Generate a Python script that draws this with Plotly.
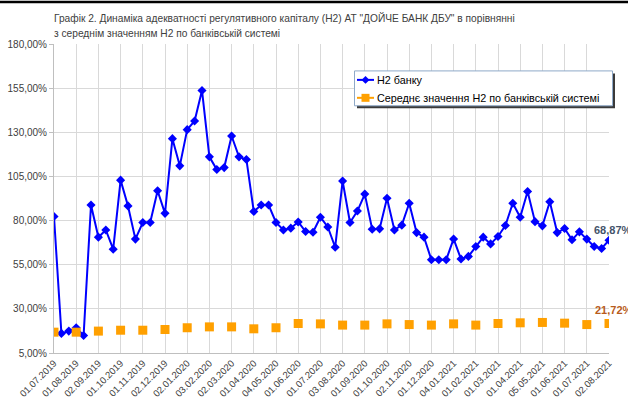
import plotly.graph_objects as go

# --- data ---------------------------------------------------------------
month_labels = ["01.07.2019", "01.08.2019", "02.09.2019", "01.10.2019", "01.11.2019",
                "02.12.2019", "02.01.2020", "03.02.2020", "02.03.2020", "01.04.2020",
                "04.05.2020", "01.06.2020", "01.07.2020", "03.08.2020", "01.09.2020",
                "01.10.2020", "02.11.2020", "01.12.2020", "04.01.2021", "01.02.2021",
                "01.03.2021", "01.04.2021", "05.05.2021", "01.06.2021", "01.07.2021",
                "02.08.2021"]

# bank H2 (%), ~every 10 days (3 observations per month)
bank_h2 = [82.3, 16.1, 17.4, 19.3, 14.9, 88.8, 70.6, 74.7, 63.8, 102.9,
           88.3, 69.5, 78.9, 78.9, 96.9, 84.1, 126.4, 111.0, 131.5, 136.4,
           153.7, 116.1, 108.9, 110.0, 127.9, 116.1, 114.6, 85.1, 88.8, 88.8,
           78.9, 74.7, 75.7, 79.2, 73.8, 73.4, 81.9, 76.4, 64.9, 102.4,
           78.9, 85.4, 95.0, 75.1, 75.3, 92.6, 74.7, 77.4, 89.8, 73.2,
           70.6, 57.8, 57.8, 57.8, 69.6, 58.2, 59.7, 65.3, 70.6, 66.8,
           71.0, 77.2, 89.8, 81.9, 96.5, 79.4, 77.0, 90.7, 73.2, 75.5,
           69.1, 73.6, 69.5, 65.3, 64.2, 68.87]

# banking-system average H2 (%), monthly
system_h2 = [16.8, 16.8, 17.4, 17.9, 17.9, 18.3, 19.3, 19.8, 19.8, 18.7,
             19.3, 21.7, 21.5, 20.8, 20.8, 21.5, 21.1, 20.8, 21.5, 20.8,
             21.7, 22.1, 22.3, 21.9, 21.1, 21.72]

y_ticks = [5, 30, 55, 80, 105, 130, 155, 180]
y_tick_labels = ["5,00%", "30,00%", "55,00%", "80,00%", "105,00%", "130,00%", "155,00%", "180,00%"]

series_names = ["Н2 банку", "Середнє значення Н2 по банківській системі"]
title_lines = ["Графік 2. Динаміка адекватності регулятивного капіталу (Н2) АТ \"ДОЙЧЕ БАНК ДБУ\" в порівнянні",
               "з середнім значенням Н2 по банківській системі"]

# --- build ----------------------------------------------------------------
BLUE, ORANGE = "#0000FF", "#FFA000"
per_month = 3
x_bank = list(range(len(bank_h2)))
month_pos = [i * per_month for i in range(len(month_labels))]
sys_full = [None] * len(bank_h2)
for p, v in zip(month_pos, system_h2):
    sys_full[p] = v

font_family = "Liberation Sans"
W, H = 628, 403
ML, MR, MT, MB = 54, 19, 43.5, 49.5
PW, PH = W - ML - MR, H - MT - MB

def px_y(py):
    return 1 + (MT - py) / PH

def px_x(px):
    return (px - ML) / PW

fig = go.Figure()
fig.add_trace(go.Scatter(
    x=x_bank, y=bank_h2, name=series_names[0], mode="lines+markers",
    line=dict(color=BLUE, width=2),
    marker=dict(symbol="diamond", size=7, color=BLUE),
))
fig.add_trace(go.Scatter(
    x=x_bank, y=sys_full, name=series_names[1],
    mode="lines+markers", connectgaps=False,
    line=dict(color=ORANGE, width=2),
    marker=dict(symbol="square", size=9, color=ORANGE),
))

fig.add_annotation(x=x_bank[-1], y=bank_h2[-1], text="<b>68,87%</b>", showarrow=False,
                   xanchor="left", yanchor="bottom", xshift=-17, yshift=2,
                   font=dict(size=11, color="#44546A", family=font_family))
fig.add_annotation(x=month_pos[-1], y=system_h2[-1], text="<b>21,72%</b>", showarrow=False,
                   xanchor="left", yanchor="bottom", xshift=-16, yshift=5,
                   font=dict(size=11, color="#B85C1C", family=font_family))

for line, yc in zip(title_lines, [17, 33]):
    fig.add_annotation(xref="paper", yref="paper", x=px_x(52), y=px_y(yc), text=line,
                       showarrow=False, xanchor="left", yanchor="middle",
                       font=dict(size=10.2, color="#404040", family=font_family))

# top black border of the page
fig.add_shape(type="rect", xref="paper", yref="paper", layer="above",
              x0=px_x(0), x1=px_x(W), y0=px_y(2.5), y1=px_y(0),
              line=dict(width=0), fillcolor="black")

# --- legend box (drawn) ---------------------------------------------------
LX0, LY0, LX1, LY1 = 354.5, 70.5, 612.5, 105.5
fig.add_shape(type="rect", xref="paper", yref="paper", layer="above",
              x0=px_x(LX0 + 2.5), x1=px_x(LX1 + 2.5), y0=px_y(LY1 + 2.5), y1=px_y(LY0 + 2.5),
              line=dict(width=0), fillcolor="#3A3A3A")
fig.add_shape(type="rect", xref="paper", yref="paper", layer="above",
              x0=px_x(LX0), x1=px_x(LX1), y0=px_y(LY1), y1=px_y(LY0),
              line=dict(width=1, color="#8EA9C8"), fillcolor="white")
rows = [(79.5, BLUE, "diamond"), (97.5, ORANGE, "square")]
for (ry, col, sym), name in zip(rows, series_names):
    fig.add_shape(type="line", xref="paper", yref="paper", layer="above",
                  x0=px_x(357), x1=px_x(374), y0=px_y(ry), y1=px_y(ry),
                  line=dict(color=col, width=2))
    cx = 365.5
    if sym == "diamond":
        path = (f"M {px_x(cx)},{px_y(ry - 4)} L {px_x(cx + 4)},{px_y(ry)} "
                f"L {px_x(cx)},{px_y(ry + 4)} L {px_x(cx - 4)},{px_y(ry)} Z")
        fig.add_shape(type="path", xref="paper", yref="paper", layer="above", path=path,
                      line=dict(width=0), fillcolor=col)
    else:
        fig.add_shape(type="rect", xref="paper", yref="paper", layer="above",
                      x0=px_x(cx - 4), x1=px_x(cx + 4), y0=px_y(ry + 4), y1=px_y(ry - 4),
                      line=dict(width=0), fillcolor=col)
    fig.add_annotation(xref="paper", yref="paper", x=px_x(375), y=px_y(ry), text=name,
                       showarrow=False, xanchor="left", yanchor="middle",
                       font=dict(size=10.8, color="#000000", family=font_family))

fig.update_layout(
    width=W, height=H,
    margin=dict(l=ML, r=MR, t=MT, b=MB),
    paper_bgcolor="white", plot_bgcolor="white",
    font=dict(family=font_family, size=10, color="#404040"),
    showlegend=False,
    xaxis=dict(
        range=[0, len(bank_h2) - 1], tickmode="array", tickvals=month_pos, ticktext=month_labels,
        tickangle=-45, showgrid=True, gridcolor="#D9D9D9", gridwidth=1,
        showline=True, linecolor="#BFBFBF", zeroline=False, automargin=False,
        tickfont=dict(size=9.5, color="#404040"), ticks="",
    ),
    yaxis=dict(
        range=[5, 180], tickmode="array", tickvals=y_ticks, ticktext=y_tick_labels,
        showgrid=True, gridcolor="#D9D9D9", gridwidth=1,
        showline=True, linecolor="#BFBFBF", zeroline=False, automargin=False,
        ticks="outside", ticklen=4, tickcolor="#BFBFBF",
        tickfont=dict(size=10, color="#404040"),
    ),
)

fig.write_html("out.html", config={"displayModeBar": False},
               post_script="document.body.style.margin='0';document.body.style.padding='0';")
